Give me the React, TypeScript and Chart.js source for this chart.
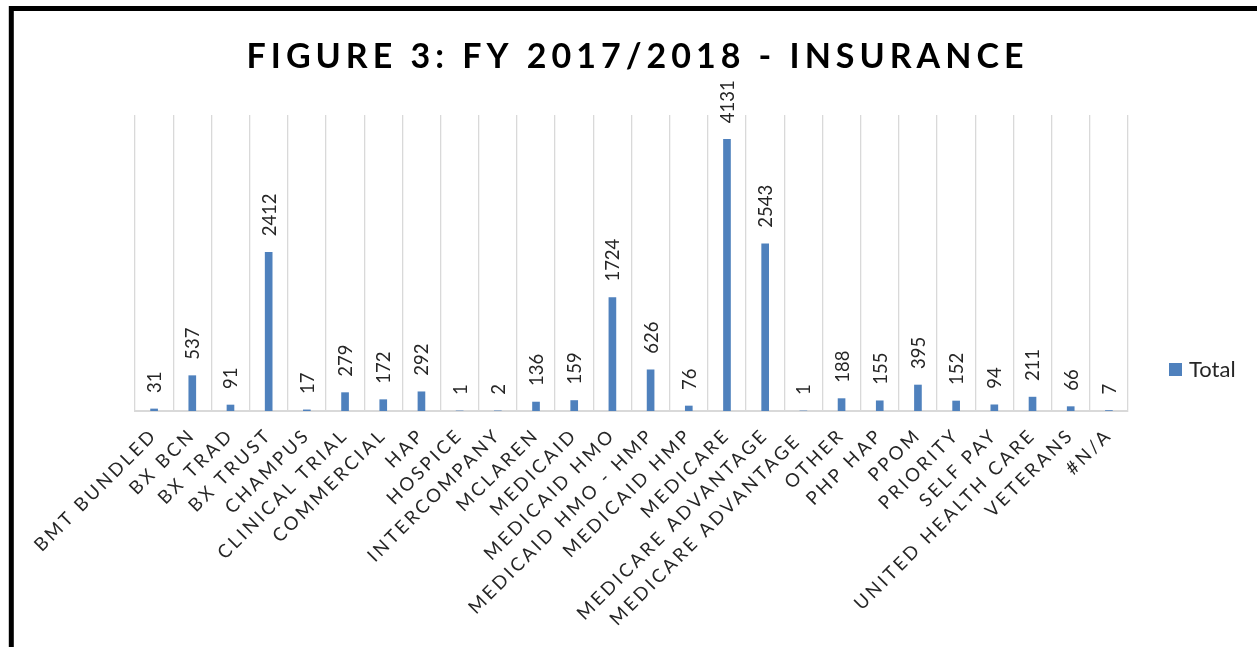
import { useEffect, useRef } from "react";
import { Chart, registerables } from "chart.js";

Chart.register(...registerables);

const categories = [
  "BMT BUNDLED",
  "BX BCN",
  "BX TRAD",
  "BX TRUST",
  "CHAMPUS",
  "CLINICAL TRIAL",
  "COMMERCIAL",
  "HAP",
  "HOSPICE",
  "INTERCOMPANY",
  "MCLAREN",
  "MEDICAID",
  "MEDICAID HMO",
  "MEDICAID HMO - HMP",
  "MEDICAID HMP",
  "MEDICARE",
  "MEDICARE ADVANTAGE",
  "MEDICARE ADVANTAGE ",
  "OTHER",
  "PHP HAP",
  "PPOM",
  "PRIORITY",
  "SELF PAY",
  "UNITED HEALTH CARE",
  "VETERANS",
  "#N/A",
];

const totals = [
  31, 537, 91, 2412, 17, 279, 172, 292, 1, 2, 136, 159, 1724, 626, 76, 4131,
  2543, 1, 188, 155, 395, 152, 94, 211, 66, 7,
];

const seriesName = "Total";
const titleText = "FIGURE 3: FY 2017/2018 - INSURANCE";
const yMin = 0;
const yMax = 4500;

const BAR_COLOR = "#4F81BD";
const TEXT_COLOR = "#262626";

export default function App() {
  const ref = useRef<HTMLCanvasElement | null>(null);

  useEffect(() => {
    const canvas = ref.current;
    if (!canvas) return;

    const framePlugin = {
      id: "frame",
      beforeDraw(chart: any) {
        const { ctx, width, height } = chart;
        ctx.save();
        ctx.fillStyle = "#ffffff";
        ctx.fillRect(0, 0, width, height);
        ctx.strokeStyle = "#000000";
        ctx.lineWidth = 5;
        ctx.strokeRect(11.3, 8.5, width + 100, height + 100);
        ctx.restore();
      },
    };

    const textPlugin = {
      id: "texts",
      afterDatasetsDraw(chart: any) {
        const ctx = chart.ctx;
        const meta = chart.getDatasetMeta(0);
        const values = chart.data.datasets[0].data as number[];
        ctx.save();
        (ctx as any).letterSpacing = "0px";
        ctx.font = "18.5px Lato";
        ctx.fillStyle = TEXT_COLOR;
        ctx.textAlign = "left";
        ctx.textBaseline = "middle";
        meta.data.forEach((bar: any, i: number) => {
          ctx.save();
          ctx.translate(bar.x + 1, bar.y - 16);
          ctx.rotate(-Math.PI / 2);
          ctx.fillText(String(values[i]), 0, 0);
          ctx.restore();
        });
        ctx.restore();
        // spacing for the x tick labels, drawn right after (ticks.z = 1)
        (ctx as any).letterSpacing = "2.9px";
      },
      afterDraw(chart: any) {
        const ctx = chart.ctx;
        const area = chart.chartArea;
        (ctx as any).letterSpacing = "0px";

        // legend
        ctx.save();
        const ds = chart.data.datasets[0];
        const lx = area.right + 41;
        const ly = 370;
        ctx.fillStyle = ds.backgroundColor;
        ctx.fillRect(lx, ly - 7, 13, 13);
        ctx.fillStyle = TEXT_COLOR;
        ctx.font = "22px Lato";
        ctx.textAlign = "left";
        ctx.textBaseline = "middle";
        ctx.fillText(ds.label, lx + 20, ly);
        ctx.restore();

        // title
        ctx.save();
        (ctx as any).letterSpacing = "5px";
        ctx.font = "bold 34px Lato";
        ctx.fillStyle = "#000000";
        ctx.textAlign = "center";
        ctx.textBaseline = "alphabetic";
        ctx.fillText(titleText, 636.5 + 1, 68);
        ctx.restore();
        (ctx as any).letterSpacing = "0px";
      },
    };

    const chart = new Chart(canvas, {
      type: "bar",
      data: {
        labels: categories,
        datasets: [
          {
            label: seriesName,
            data: totals,
            backgroundColor: BAR_COLOR,
            borderWidth: 0,
            barThickness: 7,
          },
        ],
      },
      options: {
        responsive: false,
        animation: false,
        layout: { padding: { left: 135, right: 129, top: 115, bottom: 0 } },
        plugins: {
          legend: { display: false },
          title: { display: false },
          tooltip: { enabled: false },
        },
        scales: {
          x: {
            offset: true,
            grid: {
              offset: true,
              color: "#d9d9d9",
              lineWidth: 1.3,
              drawTicks: false,
            },
            border: { color: "#d9d9d9", width: 2 },
            ticks: {
              autoSkip: false,
              minRotation: 45,
              maxRotation: 45,
              padding: 13,
              color: TEXT_COLOR,
              font: { family: "Lato", size: 18.5 },
              z: 1,
            },
            afterFit(scale: any) {
              scale.height = 236;
            },
          },
          y: {
            display: false,
            min: yMin,
            max: yMax,
            grid: { display: false },
          },
        },
      },
      plugins: [framePlugin, textPlugin],
    });

    return () => chart.destroy();
  }, []);

  return (
    <div
      style={{
        position: "fixed",
        left: 0,
        top: 0,
        width: 1257,
        height: 647,
        background: "#fff",
      }}
    >
      <canvas ref={ref} width={1257} height={647} style={{ display: "block" }} />
    </div>
  );
}
